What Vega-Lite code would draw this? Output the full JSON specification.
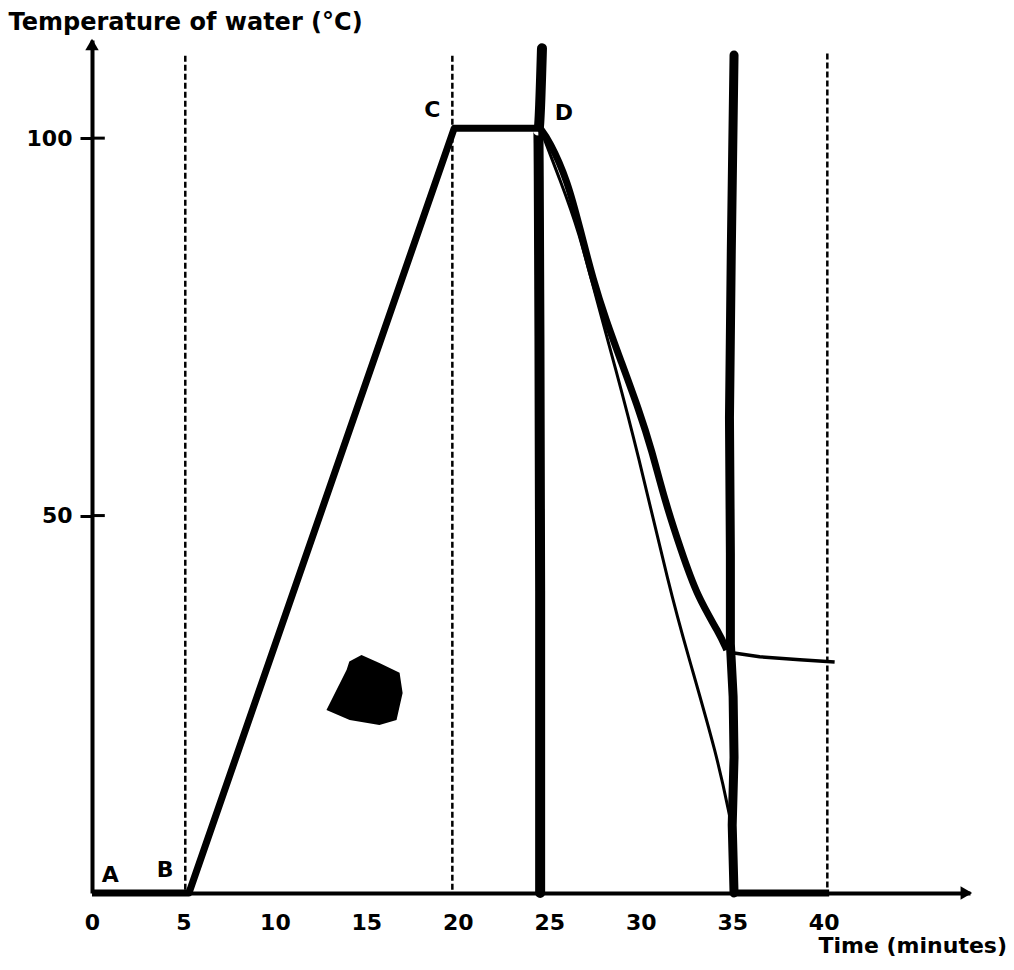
{
  "$schema": "https://vega.github.io/schema/vega-lite/v6.json",
  "autosize": "none",
  "width": 878,
  "height": 853,
  "padding": {"left": 92, "top": 40, "right": 44, "bottom": 77},
  "background": "white",
  "config": {
    "view": {"stroke": null},
    "font": "DejaVu Sans",
    "axis": {"grid": false, "domainColor": "black", "domainWidth": 4, "tickColor": "black", "labelColor": "black", "titleColor": "black", "labelFont": "DejaVu Sans", "labelFontWeight": "bold", "labelFontSize": 22, "titleFont": "DejaVu Sans", "titleFontWeight": "bold"}
  },
  "layer": [
    {
      "data": {"values": [{"t": 5.1, "top": 110.9}, {"t": 19.7, "top": 110.9}, {"t": 40.2, "top": 111.2}]},
      "mark": {"type": "rule", "color": "black", "strokeWidth": 2.5, "strokeDash": [6, 3]},
      "encoding": {
        "x": {"field": "t", "type": "quantitative", "scale": {"domain": [0, 48], "nice": false, "zero": false}, "axis": {"values": [0, 5, 10, 15, 20, 25, 30, 35, 40], "ticks": false, "tickSize": 0, "labelPadding": 19, "title": "Time (minutes)", "titleFontSize": 22, "titleAnchor": "start", "titleAlign": "left", "titleBaseline": "middle", "titleX": 726, "titleY": 52, "labelFlush": false}},
        "y": {"field": "top", "type": "quantitative", "scale": {"domain": [0, 113], "nice": false}, "axis": {"values": [50, 100], "tickSize": 12, "tickWidth": 3, "labelPadding": 8, "title": "Temperature of water (°C)", "titleFontSize": 24, "titleAngle": 0, "titleAlign": "left", "titleBaseline": "middle", "titleX": -84, "titleY": -18}},
        "y2": {"datum": 0}
      }
    },
    {
      "data": {"values": [{"temp": 50}, {"temp": 100}]},
      "mark": {"type": "rule", "color": "black", "strokeWidth": 3},
      "encoding": {
        "x": {"datum": 0, "type": "quantitative"},
        "x2": {"datum": 0.7},
        "y": {"field": "temp", "type": "quantitative"}
      }
    },
    {
      "data": {"values": [{"t": 0, "temp": 0}, {"t": 5.3, "temp": 0}, {"t": 19.8, "temp": 101.3}, {"t": 24.5, "temp": 101.3}]},
      "mark": {"type": "line", "color": "black", "strokeWidth": 7, "strokeJoin": "round"},
      "encoding": {
        "x": {"field": "t", "type": "quantitative"},
        "y": {"field": "temp", "type": "quantitative"}
      }
    },
    {
      "data": {"values": [{"t": 24.5, "temp": 101.3}, {"t": 25.6, "temp": 94.4}, {"t": 26.6, "temp": 87.8}, {"t": 27.6, "temp": 78.5}, {"t": 28.6, "temp": 69.7}, {"t": 29.8, "temp": 58.7}, {"t": 31.6, "temp": 40.1}, {"t": 32.5, "temp": 32.2}, {"t": 34.2, "temp": 18.0}, {"t": 34.9, "temp": 9.7}]},
      "mark": {"type": "line", "color": "black", "strokeWidth": 3, "interpolate": "basis"},
      "encoding": {
        "x": {"field": "t", "type": "quantitative"},
        "y": {"field": "temp", "type": "quantitative"}
      }
    },
    {
      "data": {"values": [{"t": 24.5, "temp": 101.3}, {"t": 25.0, "temp": 99.7}, {"t": 26.0, "temp": 94.4}, {"t": 26.7, "temp": 87.8}, {"t": 27.4, "temp": 81.2}, {"t": 28.1, "temp": 75.9}, {"t": 28.9, "temp": 70.6}, {"t": 29.9, "temp": 64.0}, {"t": 30.6, "temp": 58.7}, {"t": 31.3, "temp": 52.1}, {"t": 32.2, "temp": 45.4}, {"t": 33.1, "temp": 39.2}, {"t": 34.3, "temp": 34.4}, {"t": 34.7, "temp": 32.2}]},
      "mark": {"type": "line", "color": "black", "strokeWidth": 7, "strokeJoin": "round", "interpolate": "basis"},
      "encoding": {
        "x": {"field": "t", "type": "quantitative"},
        "y": {"field": "temp", "type": "quantitative"}
      }
    },
    {
      "data": {"values": [{"t": 35.1, "temp": 31.8}, {"t": 36.5, "temp": 31.3}, {"t": 38.7, "temp": 30.9}, {"t": 40.6, "temp": 30.6}]},
      "mark": {"type": "line", "color": "black", "strokeWidth": 3.5},
      "encoding": {
        "x": {"field": "t", "type": "quantitative"},
        "y": {"field": "temp", "type": "quantitative"}
      }
    },
    {
      "data": {"values": [{"t": 24.5, "temp": 0}, {"t": 24.5, "temp": 40}, {"t": 24.45, "temp": 80}, {"t": 24.4, "temp": 101}, {"t": 24.6, "temp": 111.9}]},
      "mark": {"type": "line", "color": "black", "strokeWidth": 10, "strokeCap": "round", "interpolate": "monotone"},
      "encoding": {
        "x": {"field": "t", "type": "quantitative"},
        "y": {"field": "temp", "type": "quantitative"},
        "order": {"field": "temp", "type": "quantitative"}
      }
    },
    {
      "data": {"values": [{"t": 35.1, "temp": 0}, {"t": 35.0, "temp": 9.0}, {"t": 35.1, "temp": 18.0}, {"t": 35.05, "temp": 26.0}, {"t": 34.9, "temp": 33.0}, {"t": 34.9, "temp": 45.0}, {"t": 34.85, "temp": 63.0}, {"t": 34.95, "temp": 85.0}, {"t": 35.1, "temp": 111}]},
      "mark": {"type": "line", "color": "black", "strokeWidth": 9, "strokeCap": "round"},
      "encoding": {
        "x": {"field": "t", "type": "quantitative"},
        "y": {"field": "temp", "type": "quantitative"},
        "order": {"field": "temp", "type": "quantitative"}
      }
    },
    {
      "data": {"values": [{"t": 35.1, "temp": 0}, {"t": 40.3, "temp": 0}]},
      "mark": {"type": "line", "color": "black", "strokeWidth": 7},
      "encoding": {
        "x": {"field": "t", "type": "quantitative"},
        "y": {"field": "temp", "type": "quantitative"}
      }
    },
    {
      "data": {"values": [{"t": 14.9, "temp": 26.9}]},
      "mark": {"type": "point", "filled": true, "color": "black", "opacity": 1, "size": 5800, "shape": "M-1,0.53L-0.47,-0.53L-0.4,-0.75L-0.08,-0.92L0.39,-0.71L0.92,-0.45L1,0.08L0.84,0.79L0.39,0.92L-0.39,0.79Z"},
      "encoding": {
        "x": {"field": "t", "type": "quantitative"},
        "y": {"field": "temp", "type": "quantitative"}
      }
    },
    {
      "data": {"values": [{"t": 47.8, "temp": 0}]},
      "mark": {"type": "point", "filled": true, "color": "black", "opacity": 1, "size": 180, "shape": "triangle-right"},
      "encoding": {
        "x": {"field": "t", "type": "quantitative"},
        "y": {"field": "temp", "type": "quantitative"}
      }
    },
    {
      "data": {"values": [{"t": 0, "temp": 112.4}]},
      "mark": {"type": "point", "filled": true, "color": "black", "opacity": 1, "size": 180, "shape": "triangle-up"},
      "encoding": {
        "x": {"field": "t", "type": "quantitative"},
        "y": {"field": "temp", "type": "quantitative"}
      }
    },
    {
      "data": {"values": [{"label": "A", "t": 1.0, "temp": 2.4}, {"label": "B", "t": 4.0, "temp": 3.0}, {"label": "C", "t": 18.6, "temp": 103.7}, {"label": "D", "t": 25.8, "temp": 103.3}]},
      "mark": {"type": "text", "font": "DejaVu Sans", "fontWeight": "bold", "fontSize": 22, "color": "black", "align": "center", "baseline": "middle"},
      "encoding": {
        "x": {"field": "t", "type": "quantitative"},
        "y": {"field": "temp", "type": "quantitative"},
        "text": {"field": "label"}
      }
    }
  ]
}
